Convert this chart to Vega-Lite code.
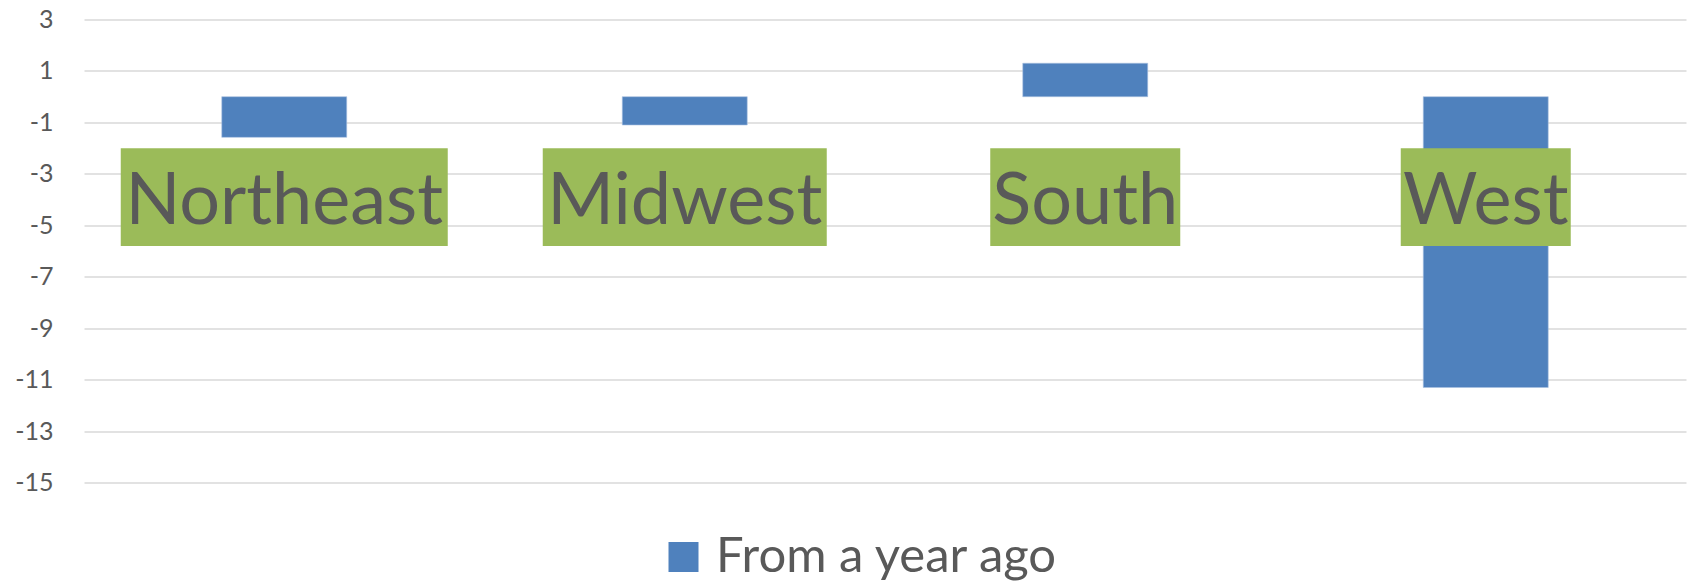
{
  "$schema": "https://vega.github.io/schema/vega-lite/v6.json",
  "autosize": {"type": "none"},
  "width": 1602,
  "height": 463.2,
  "padding": {"left": 84, "top": 19.5, "right": 8, "bottom": 99.3},
  "background": "#ffffff",
  "config": {
    "view": {"stroke": null},
    "font": "Lato"
  },
  "data": {
    "values": [
      {"region": "Northeast", "value": -1.58, "series": "From a year ago"},
      {"region": "Midwest", "value": -1.1, "series": "From a year ago"},
      {"region": "South", "value": 1.3, "series": "From a year ago"},
      {"region": "West", "value": -11.3, "series": "From a year ago"}
    ]
  },
  "encoding": {
    "x": {
      "field": "region",
      "type": "nominal",
      "sort": null,
      "axis": null,
      "scale": {"paddingInner": 0.688, "paddingOuter": 0.344}
    }
  },
  "layer": [
    {
      "mark": {"type": "bar", "stroke": "#a9c1e0", "strokeWidth": 0.6},
      "encoding": {
        "y": {
          "field": "value",
          "type": "quantitative",
          "scale": {"domain": [-15, 3], "nice": false, "zero": false},
          "axis": {
            "values": [3, 1, -1, -3, -5, -7, -9, -11, -13, -15],
            "labelExpr": "toString(datum.value)",
            "title": null,
            "domain": false,
            "ticks": false,
            "labelFontSize": 25,
            "labelColor": "#595959",
            "labelPadding": 31,
            "labelFont": "Lato",
            "gridColor": "#d9d9d9",
            "gridWidth": 1.3
          }
        },
        "color": {
          "field": "series",
          "type": "nominal",
          "scale": {"range": ["#4f81bd"]},
          "legend": {
            "title": null,
            "orient": "none",
            "legendX": 575,
            "legendY": 513,
            "padding": 0,
            "symbolType": "square",
            "symbolSize": 900,
            "symbolStrokeWidth": 0,
            "symbolOpacity": 1,
            "labelFontSize": 49,
            "labelColor": "#595959",
            "labelFont": "Lato",
            "labelOffset": 8,
            "labelLimit": 600
          }
        }
      }
    },
    {
      "mark": {"type": "rule", "color": "#ff0000", "strokeWidth": 1.8},
      "encoding": {"y": {"datum": 0}}
    },
    {
      "mark": {
        "type": "bar",
        "color": "#9bbb59",
        "width": {"expr": "datum.region == 'Northeast' ? 327 : datum.region == 'Midwest' ? 284 : datum.region == 'South' ? 190 : 170"}
      },
      "encoding": {
        "y": {"datum": -2},
        "y2": {"datum": -5.8}
      }
    },
    {
      "mark": {
        "type": "text",
        "font": "Lato",
        "fontSize": 72,
        "color": "#595959",
        "baseline": "alphabetic",
        "align": "center"
      },
      "encoding": {
        "y": {"datum": -4.95},
        "text": {"field": "region"}
      }
    }
  ]
}
